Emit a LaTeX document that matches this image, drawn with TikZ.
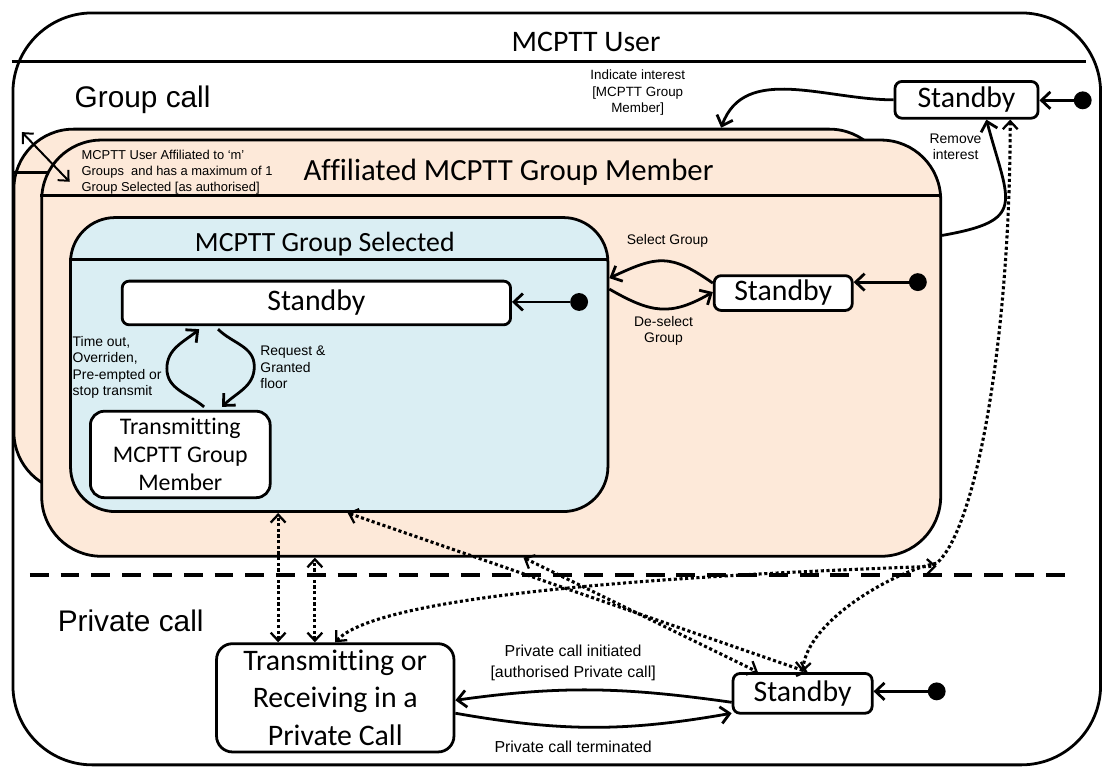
\documentclass[tikz,border=0pt]{standalone}
\usepackage{fontspec}
\newfontfamily\calibri{Carlito}[Ligatures=NoCommon]
\newfontfamily\arial{Liberation Sans}
\usetikzlibrary{arrows.meta,positioning,calc}
\definecolor{peach}{RGB}{253,233,217}
\definecolor{paleblue}{RGB}{218,238,243}
\tikzset{
    box line/.style = {
        draw,
        line width=2.8pt,
        },
    region/.style = {
        box line,
        rectangle,
        inner sep=0pt,
        },
    state node/.style = {
        box line,
        fill = white,
        rounded corners=7pt,
        inner sep=0pt,
        font=\calibri\fontsize{30}{36}\selectfont,
        },
    region title/.style = {
        anchor=base,
        inner sep=0pt,
        font=\calibri\fontsize{30}{36}\selectfont,
        },
    area name/.style = {
        anchor=base west,
        inner sep=0pt,
        font=\arial\fontsize{30}{36}\selectfont,
        },
    guard/.style = {
        inner sep=0pt,
        align=center,
        font=\arial\fontsize{14}{16.5}\selectfont,
        },
    init/.style = {
        circle,
        fill,
        inner sep=0pt,
        minimum size=18pt,
        },
    trans edge/.style = {
        line width=2.8pt,
        -{Straight Barb[length=9pt,width=17pt,line width=2.8pt]},
        },
    link edge/.style = {
        line width=3.1pt,
        dash pattern=on 3.1pt off 2.6pt,
        {Straight Barb[length=8pt,width=15pt,line width=2.3pt]}-{Straight Barb[length=8pt,width=15pt,line width=2.3pt]},
        },
}
\begin{document}
\begin{tikzpicture}[x=1pt,y=1pt]
            \fill[white] (0,0) rectangle (1102,-772);

            \node[region, rounded corners=80pt, minimum width=1095pt, minimum height=757pt] (user) at (560.5,-391.5) {};
            \node[region title] (user title) at (590,-52) {MCPTT User};
            \draw[box line] ([yshift=-50pt]user.north west) -- ([xshift=-16pt,yshift=-50pt]user.north east);
            \node[area name] (group call) at (75,-108) {Group call};
            \node[area name] (private call) at (58,-636) {Private call};

            \node[region, fill=peach, rounded corners=60pt, minimum width=881pt, minimum height=365pt] (aff back) at (454.5,-312.5) {};
            \draw[box line] ([yshift=-45pt]aff back.north west) -- ([yshift=-45pt]aff back.north east);
            \node[region, fill=peach, rounded corners=60pt, minimum width=905pt, minimum height=419pt] (aff) at (494.5,-350.5) {};
            \draw[box line] ([yshift=-57pt]aff.north west) -- ([yshift=-57pt]aff.north east);
            \node[region title, font=\calibri\fontsize{31}{36}\selectfont] (aff title) at (512,-182) {Affiliated MCPTT Group Member};
            \node[guard, align=left, anchor=west, font=\arial\fontsize{13}{16}\selectfont] (aff note) at (82,-173) {MCPTT User Affiliated to ‘m’\\Groups~ and has a maximum of 1\\Group Selected [as authorised]};
            \coordinate (ptr a) at (22,-133);
            \coordinate (ptr b) at (70,-183);
            \draw[line width=2pt, {Straight Barb[length=8pt,width=15pt]}-{Straight Barb[length=8pt,width=15pt]}] (ptr a) -- (ptr b);

            \node[region, fill=paleblue, rounded corners=45pt, minimum width=541pt, minimum height=296pt] (gs) at (341.5,-367) {};
            \draw[box line] ([yshift=-44pt]gs.north west) -- ([yshift=-44pt]gs.north east);
            \node[region title, font=\calibri\fontsize{28}{34}\selectfont] (gs title) at (327,-253) {MCPTT Group Selected};
            \node[state node, minimum width=391pt, minimum height=44pt] (isb) at (318.5,-305) {Standby};
            \node[state node, rounded corners=14pt, minimum width=181pt, minimum height=87pt, align=center, font=\calibri\fontsize{24}{28}\selectfont] (tm) at (181.5,-457.5) {Transmitting\\MCPTT Group\\Member};
            \node[init] (isb init) at (583,-304) {};

            \node[state node, minimum width=139pt, minimum height=35pt] (asb) at (788.5,-295) {Standby};
            \node[init] (asb init) at (924,-284) {};
            \node[state node, minimum width=144pt, minimum height=37pt] (tsb) at (973,-100.5) {Standby};
            \node[init] (tsb init) at (1090,-101) {};
            \node[state node, minimum width=140pt, minimum height=40pt] (bsb) at (808,-698) {Standby};
            \node[init] (bsb init) at (943,-696) {};
            \node[state node, rounded corners=16pt, minimum width=239pt, minimum height=109pt, align=center, font=\calibri\fontsize{30}{37.5}\selectfont] (pc) at (337.5,-702.5) {Transmitting or\\Receiving in a\\Private Call};

            \draw[trans edge] (isb init) -- (isb.east |- isb init);
            \draw[trans edge] (asb init) -- (asb.east |- asb init);
            \draw[trans edge] (tsb init) -- (tsb.east |- tsb init);
            \draw[trans edge] (bsb init) -- (bsb.east |- bsb init);

            \coordinate (loop left) at (168,-371);
            \coordinate (loop right) at (256,-369);
            \draw[trans edge] ([xshift=24pt,yshift=3pt]tm.north) to[out=140, in=-90] (loop left) to[out=90, in=-140] ([xshift=-118pt,yshift=-3pt]isb.south);
            \draw[trans edge] ([xshift=-99pt,yshift=-3pt]isb.south) to[out=-45, in=90] (loop right) to[out=-90, in=45] ([xshift=42pt,yshift=3pt]tm.north);
            \node[guard, align=left, anchor=west] (timeout) at (73,-370) {Time out,\\Overriden,\\Pre-empted or\\stop transmit};
            \node[guard, align=left, anchor=west] (request) at (262,-370) {Request \&\\Granted\\floor};

            \draw[trans edge] ([yshift=10pt]asb.west) to[out=145, in=25, looseness=1.3] ([yshift=87pt]gs.east);
            \draw[trans edge] ([yshift=76pt]gs.east) to[out=-30, in=-150, looseness=1.2] ([yshift=1pt]asb.west);
            \node[guard] (select) at (672,-243) {Select Group};
            \node[guard] (deselect) at (668,-333) {De-select\\Group};

            \draw[trans edge] (tsb.west) to[out=180, in=70] ([xshift=271.5pt]aff back.north);
            \node[guard, font=\arial\fontsize{13.5}{16.5}\selectfont] (indicate) at (642,-93.5) {Indicate interest\\{[}MCPTT Group\\Member{]}};
            \draw[trans edge] ([yshift=113.5pt]aff.east) to[out=10, in=-75, looseness=1.8] ([xshift=20pt]tsb.south);
            \node[guard] (remove) at (962,-148) {Remove\\interest};

            \draw[trans edge] ([yshift=-9pt]bsb.west) to[out=172, in=8] ([yshift=-2.5pt]pc.east);
            \draw[trans edge] ([yshift=-15.5pt]pc.east) to[out=-10, in=190] ([yshift=-20pt]bsb.west);
            \node[guard, font=\arial\fontsize{16}{21}\selectfont] (initiated) at (577,-667.5) {Private call initiated\\{[}authorised Private call{]}};
            \node[guard, font=\arial\fontsize{16}{21}\selectfont] (terminated) at (577,-752) {Private call terminated};

            \coordinate (sep a) at (30,-579);
            \coordinate (sep b) at (1078,-579);
            \draw[line width=4pt, dash pattern=on 19pt off 12pt] (sep a) -- (sep b);

            \coordinate (v1) at ([xshift=-57.5pt]pc.north);
            \coordinate (v2) at ([xshift=-20.5pt]pc.north);
            \coordinate (junction) at (943,-570);
            \draw[link edge] (v1) -- (v1 |- gs.south);
            \draw[link edge] (v2) -- (v2 |- aff.south);
            \draw[link edge] (pc.north) .. controls (375,-605) and (600,-582) .. (junction);
            \draw[link edge] (bsb.north) .. controls (812,-625) and (900,-575) .. (943,-567) .. controls (985,-530) and (1017,-330) .. ([xshift=44pt]tsb.south);
            \draw[link edge] ([xshift=8.5pt]gs.south) -- ([xshift=5pt]bsb.north);
            \draw[link edge] ([xshift=32.5pt]aff.south) -- ([xshift=-45pt]bsb.north);
        \end{tikzpicture}
\end{document}
